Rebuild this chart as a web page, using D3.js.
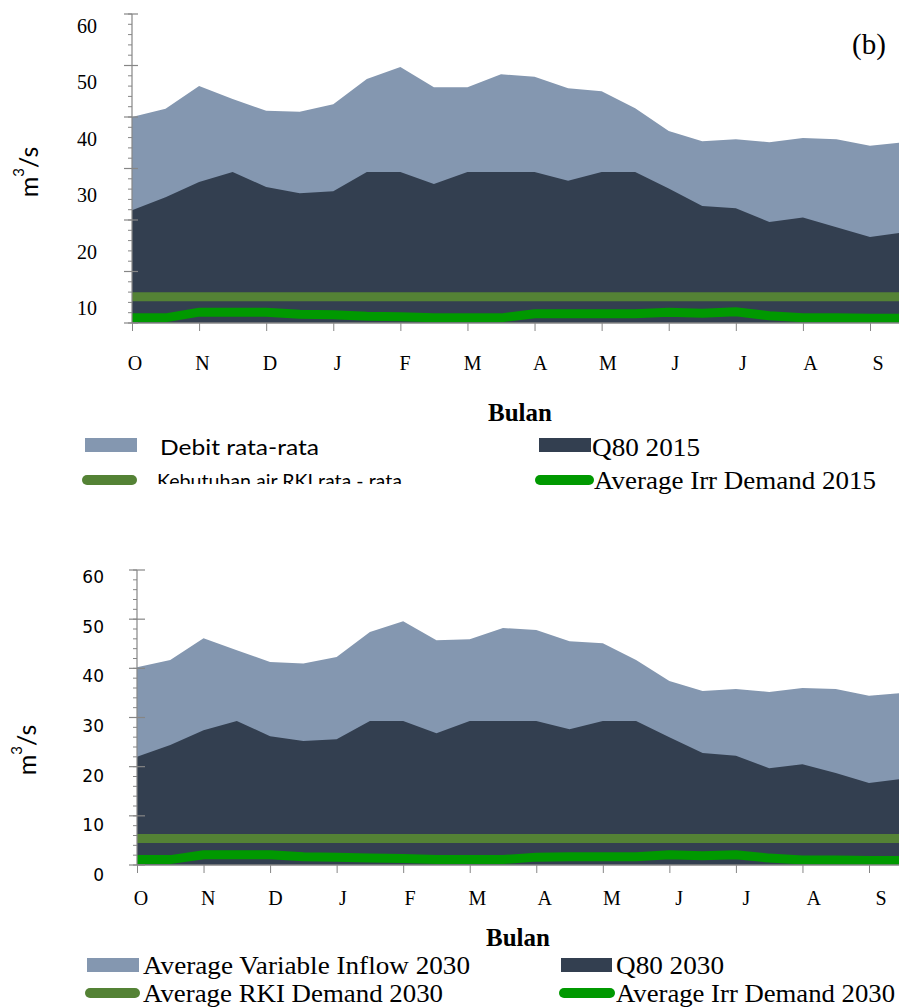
<!DOCTYPE html>
<html><head><meta charset="utf-8">
<script src="https://cdn.jsdelivr.net/npm/d3@7"></script>
<style>body{margin:0;background:#fff}svg{display:block}</style>
</head><body>
<svg id="c" width="899" height="1008"></svg>
<script>
// ---- data (half-monthly, Oct -> Sep) ----
const months = ["O","N","D","J","F","M","A","M","J","J","A","S"];
const inflow2015 = [40.0,41.6,46.0,43.5,41.2,41.0,42.5,47.4,49.7,45.8,45.8,48.3,47.8,45.6,45.0,41.7,37.3,35.3,35.7,35.1,35.9,35.7,34.4,35.1];
const q80_2015   = [21.9,24.4,27.4,29.3,26.4,25.2,25.6,29.3,29.3,27.0,29.3,29.3,29.3,27.6,29.3,29.3,26.1,22.7,22.3,19.6,20.5,18.6,16.7,17.6];
const irr2015    = [1.0,1.0,2.1,2.1,2.1,1.7,1.6,1.3,1.2,1.0,1.0,1.0,1.8,1.8,1.8,1.8,2.1,1.9,2.2,1.4,1.0,1.0,0.9,0.9];
const rki2015    = [5.1];
const inflow2030 = [40.2,41.7,46.1,43.7,41.3,41.0,42.3,47.4,49.6,45.7,45.9,48.2,47.8,45.5,45.1,41.7,37.4,35.4,35.8,35.2,36.0,35.8,34.4,35.0];
const q80_2030   = [22.0,24.4,27.4,29.3,26.2,25.2,25.6,29.3,29.3,26.8,29.3,29.3,29.3,27.6,29.3,29.3,26.0,22.8,22.2,19.7,20.5,18.7,16.7,17.5];
const irr2030    = [1.1,1.1,2.1,2.1,2.1,1.7,1.6,1.4,1.3,1.1,1.1,1.1,1.6,1.7,1.7,1.7,2.1,1.9,2.1,1.4,1.0,1.0,0.9,0.9];
const rki2030    = [5.4];
const yTickValues = [0,10,20,30,40,50,60];
const topYLabels = [60,50,40,30,20,10];
const bottomYLabels = [60,50,40,30,20,10,0];
const legendTop = ["Debit rata-rata","Q80 2015","Kebutuhan air RKI rata - rata","Average Irr Demand 2015"];
const legendBottom = ["Average Variable Inflow 2030","Q80 2030","Average RKI Demand 2030","Average Irr Demand 2030"];

const C = {light:"#8497B0", dark:"#333F50", rki:"#548235", irr:"#009900", axis:"#868686"};
const serif = "'Liberation Serif','Times New Roman',serif";
const sans = "Lato,'Open Sans',sans-serif";
const svg = d3.select("#c");

function chart(o){
  const x = d3.scaleLinear().domain([0,22]).range([o.x0,o.x1]);
  const y = d3.scaleLinear().domain([0,60]).range([o.y0,o.y1]);
  const g = svg.append("g");
  const idx = d3.range(o.inflow.length);
  const area = v => d3.area().x(i=>x(i)).y0(y(0)).y1(i=>y(v[i]));
  g.append("path").datum(idx).attr("d",area(o.inflow)).attr("fill",C.light);
  g.append("path").datum(idx).attr("d",area(o.q80)).attr("fill",C.dark);
  g.selectAll(".rki").data(o.rki).join("line")
    .attr("x1",x(0)).attr("x2",x(23)).attr("y1",d=>y(d)).attr("y2",d=>y(d))
    .attr("stroke",C.rki).attr("stroke-width",9);
  g.append("path").datum(idx)
    .attr("d",d3.line().x(i=>x(i)).y(i=>y(o.irr[i])))
    .attr("fill","none").attr("stroke",C.irr).attr("stroke-width",9);
  // y axis
  g.selectAll(".mn").data(d3.range(0,61,2)).join("line")
    .attr("x1",o.x0-4).attr("x2",o.x0).attr("y1",d=>y(d)).attr("y2",d=>y(d))
    .attr("stroke",C.axis).attr("stroke-width",1);
  g.selectAll(".mj").data(yTickValues).join("line")
    .attr("x1",o.x0-8).attr("x2",o.x0+o.cross).attr("y1",d=>y(d)).attr("y2",d=>y(d))
    .attr("stroke",C.axis).attr("stroke-width",1.2);
  g.append("line").attr("x1",o.x0).attr("x2",o.x0).attr("y1",y(0)).attr("y2",y(60))
    .attr("stroke",C.axis).attr("stroke-width",1.2);
  // x axis
  const xa = g.append("g").attr("transform",`translate(0,${y(0)})`)
    .call(d3.axisBottom(x).tickValues(d3.range(0,23,2)).tickSize(8).tickFormat(""));
  xa.select(".domain").remove();
  xa.selectAll("line").attr("stroke",C.axis);
  g.append("line").attr("x1",o.x0).attr("x2",899).attr("y1",y(0)).attr("y2",y(0))
    .attr("stroke",C.axis).attr("stroke-width",1.5);
  // y labels
  const ly = d3.scaleLinear().domain(o.labDomain).range(o.labRange);
  g.selectAll(".yl").data(o.yLabels).join("text")
    .attr("x",o.labX).attr("y",d=>ly(d)).attr("text-anchor","end")
    .attr("dominant-baseline","central")
    .style("font-family",o.labFont).style("font-size",o.labSize+"px").attr("fill","#000")
    .text(d=>d);
  // month labels
  const mx = d3.scalePoint().domain(d3.range(12)).range(o.mRange);
  g.selectAll(".ml").data(months).join("text")
    .attr("x",(d,i)=>mx(i)).attr("y",o.mY).attr("text-anchor","middle")
    .attr("dominant-baseline","central")
    .style("font-family",serif).style("font-size","20px").text(d=>d);
  // y title
  const t = g.append("text").attr("transform",`translate(${o.tX},${o.tY}) rotate(-90)`)
    .attr("text-anchor","middle").attr("dominant-baseline","central")
    .style("font-family",sans).style("font-size","25px");
  t.append("tspan").text("m");
  t.append("tspan").text("3").style("font-size","15px").attr("dy",-10);
  t.append("tspan").text("/s").attr("dy",10);
  // Bulan
  g.append("text").attr("x",o.bX).attr("y",o.bY).attr("text-anchor","middle")
    .style("font-family",serif).style("font-weight","bold").style("font-size","25px").text("Bulan");
}

chart({inflow:inflow2015,q80:q80_2015,irr:irr2015,rki:rki2015,
  x0:132,x1:870,y0:323,y1:14,cross:6,
  yLabels:topYLabels,labDomain:[10,60],labRange:[308,26],labX:97,labFont:serif,labSize:20,
  mRange:[135,878],mY:363,tX:28,tY:172,bX:520,bY:421});
chart({inflow:inflow2030,q80:q80_2030,irr:irr2030,rki:rki2030,
  x0:137,x1:869,y0:865,y1:570,cross:8,
  yLabels:bottomYLabels,labDomain:[0,60],labRange:[875,577],labX:104,labFont:"'DejaVu Sans',sans-serif",labSize:17,
  mRange:[141,881],mY:898,tX:26,tY:750,bX:518,bY:946});

// (b)
svg.append("text").attr("x",869).attr("y",44).attr("text-anchor","middle").attr("dominant-baseline","central")
  .style("font-family",serif).style("font-size","29px").text("(b)");

// legends
svg.append("defs").append("clipPath").attr("id","clipK")
  .append("rect").attr("x",140).attr("y",460).attr("width",300).attr("height",24);

function legend(items){
  const L = svg.append("g");
  items.forEach(it=>{
    if(it.kind==="rect"){
      L.append("rect").attr("x",it.sx).attr("y",it.sy-7).attr("width",it.sw).attr("height",14).attr("fill",it.color);
    } else {
      L.append("line").attr("x1",it.sx+5).attr("x2",it.sx+it.sw-5).attr("y1",it.sy).attr("y2",it.sy)
        .attr("stroke",it.color).attr("stroke-width",10).attr("stroke-linecap","round");
    }
    const tx = L.append("text").attr("x",it.tx).attr("y",it.ty)
      .style("font-family",it.font).style("font-size",it.size+"px")
      .attr("textLength",it.tw).attr("lengthAdjust","spacingAndGlyphs").text(it.label);
    if(it.clip) tx.attr("clip-path","url(#clipK)");
  });
}
legend([
  {kind:"rect",sx:85,sy:445,sw:52,color:C.light,label:legendTop[0],tx:160,ty:455,tw:159,font:sans,size:22},
  {kind:"rect",sx:539,sy:445,sw:52,color:C.dark,label:legendTop[1],tx:592,ty:456,tw:108,font:serif,size:26},
  {kind:"line",sx:82,sy:480,sw:55,color:C.rki,label:legendTop[2],tx:157,ty:488,tw:245,font:sans,size:19,clip:true},
  {kind:"line",sx:535,sy:480,sw:59,color:C.irr,label:legendTop[3],tx:594,ty:489,tw:282,font:serif,size:26}
]);
legend([
  {kind:"rect",sx:87,sy:965,sw:52,color:C.light,label:legendBottom[0],tx:143,ty:974,tw:327,font:serif,size:26},
  {kind:"rect",sx:561,sy:965,sw:51,color:C.dark,label:legendBottom[1],tx:616,ty:974,tw:108,font:serif,size:26},
  {kind:"line",sx:85,sy:993,sw:55,color:C.rki,label:legendBottom[2],tx:143,ty:1002,tw:300,font:serif,size:26},
  {kind:"line",sx:559,sy:993,sw:56,color:C.irr,label:legendBottom[3],tx:616,ty:1002,tw:279,font:serif,size:26}
]);
</script>
</body></html>
